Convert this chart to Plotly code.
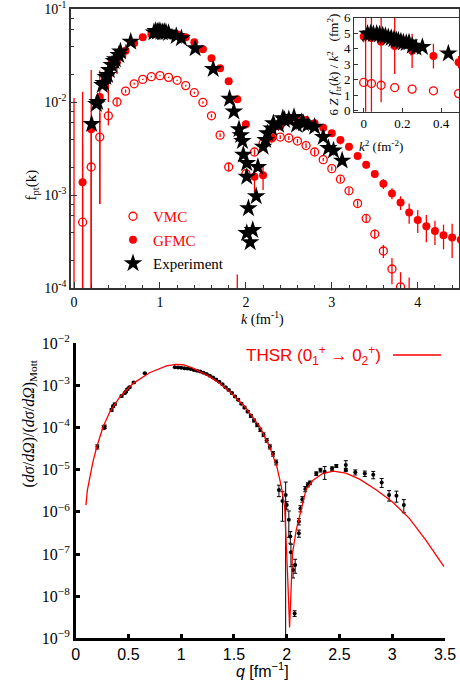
import plotly.graph_objects as go

# ================= TOP PANEL DATA =================
k_gfmc = [0.0, 0.1, 0.2, 0.3, 0.4, 0.5, 0.6, 0.7, 0.8, 0.9, 1.0, 1.1, 1.2, 1.3, 1.4, 1.5,
          1.6, 1.7, 1.8, 1.9, 2.0, 2.1, 2.2, 2.3, 2.4, 2.5, 2.6, 2.7, 2.8, 2.9, 3.0, 3.1,
          3.2, 3.3, 3.4, 3.5, 3.6, 3.7, 3.8, 3.9, 4.0, 4.1, 4.2, 4.3, 4.4, 4.5]
f_gfmc = [5e-5, 0.00137, 0.0051, 0.0113, 0.019, 0.027, 0.0356, 0.043, 0.0497, 0.054, 0.057,
          0.0556, 0.0534, 0.0497, 0.0439, 0.0369, 0.0295, 0.023, 0.0167, 0.0107, 0.00575,
          0.00157, 0.00163, 0.0041, 0.0055, 0.0063, 0.0065, 0.0064, 0.0059, 0.0053, 0.0046,
          0.0039, 0.0033, 0.00262, 0.00212, 0.00168, 0.00132, 0.00104, 0.00083, 0.00065,
          0.00054, 0.00046, 0.00041, 0.00037, 0.00035, 0.00033]
e_gfmc = [0.011, 0.0115, 0.017, 0.0105, 0.009, 0.007, 0.006, 0.005, 0.003, 0.002, 0.002,
          0.002, 0.002, 0.002, 0.002, 0.0015, 0.0015, 0.001, 0.001, 0.0008, 0.0006,
          0.0005, 0.0005, 0.0004, 0.0004, 0.0004, 0.0004, 0.0004, 0.0004, 0.0004, 0.0004,
          0.0004, 0.0003, 0.0002, 0.0002, 0.00015, 0.00016, 0.00014, 0.00014, 0.00016,
          0.00015, 0.00015, 0.00012, 0.00011, 0.00014, 0.00012]

k_vmc = [0.1, 0.2, 0.3, 0.4, 0.5, 0.6, 0.7, 0.8, 0.9, 1.0, 1.1, 1.2, 1.3, 1.4, 1.5, 1.6,
         1.7, 1.8, 1.9, 2.0, 2.1, 2.2, 2.3, 2.4, 2.5, 2.6, 2.7, 2.8, 2.9, 3.0, 3.1, 3.2,
         3.3, 3.4, 3.5, 3.6, 3.7, 3.8, 3.9]
f_vmc = [0.00051, 0.0020, 0.0042, 0.0071, 0.0100, 0.0131, 0.0157, 0.0175, 0.0187, 0.0192,
         0.0184, 0.0171, 0.0150, 0.0126, 0.0099, 0.0071, 0.0044, 0.0020, 3e-5, 0.0017,
         0.0029, 0.0036, 0.0041, 0.0042, 0.0041, 0.0038, 0.0034, 0.0029, 0.0024, 0.00192,
         0.00148, 0.00111, 0.00081, 0.00056, 0.00038, 0.00025, 0.00016, 0.000103, 5e-5]
e_vmc = [0.003, 0.004, 0.0034, 0.0015, 0.0008, 0.0005, 0.0004, 0.0003, 0.0003, 0.0003,
         0.0003, 0.0003, 0.0003, 0.0003, 0.0003, 0.0003, 0.0002, 0.0002, 0.00011, 0.0002,
         0.0002, 0.0002, 0.0002, 0.0002, 0.0002, 0.0002, 0.0002, 0.0002, 0.0001, 0.0001,
         0.0001, 0.00008, 0.00006, 0.00005, 0.000045, 0.00004, 0.00005, 0.000045, 0.00008]

k_exp = [0.205, 0.26, 0.275, 0.33, 0.345, 0.37, 0.39, 0.41, 0.44, 0.465, 0.48, 0.52, 0.54,
         0.66, 0.93, 0.95, 0.97, 0.99, 1.01, 1.03, 1.05, 1.07, 1.10, 1.19, 1.25, 1.41, 1.62,
         1.81, 1.86, 1.92, 1.94, 1.96, 1.97, 2.01, 2.01, 2.03, 2.01, 2.05, 2.08, 2.12, 2.14,
         2.20, 2.23, 2.25, 2.30, 2.32, 2.38, 2.43, 2.45, 2.50, 2.56, 2.59, 2.65, 2.67, 2.72,
         2.80, 2.90, 2.96, 3.02, 3.12]
f_exp = [0.0058, 0.0095, 0.0100, 0.0152, 0.0160, 0.0185, 0.0195, 0.0221, 0.0250, 0.0275,
         0.0288, 0.0320, 0.0348, 0.0445, 0.056, 0.058, 0.057, 0.058, 0.057, 0.056, 0.057,
         0.056, 0.055, 0.0513, 0.0484, 0.0377, 0.0226, 0.0108, 0.0079, 0.0051, 0.0044,
         0.0038, 0.0027, 0.0022, 0.00157, 0.00072, 0.00039, 0.00031, 0.00042, 0.00097,
         0.0020, 0.0033, 0.0039, 0.0046, 0.0052, 0.0059, 0.0057, 0.0067, 0.0064, 0.0065,
         0.0069, 0.0057, 0.0061, 0.0059, 0.0057, 0.0054, 0.0042, 0.0032, 0.0030, 0.00234]

top_ytick_vals = [1e-4, 1e-3, 1e-2, 1e-1]
top_ytick_text = ["10<sup>-4</sup>", "10<sup>-3</sup>", "10<sup>-2</sup>", "10<sup>-1</sup>"]
top_xtick_vals = [0, 1, 2, 3, 4]

# ================= INSET DATA =================
k2_gfmc = [0.0, 0.01, 0.04, 0.09, 0.16, 0.25, 0.36, 0.49]
r_gfmc = [4.78, 4.8, 4.67, 4.43, 4.16, 3.85, 3.51, 3.12]
re_gfmc = [0.38, 6.5, 6.0, 3.9, 1.8, 1.1, 0.8, 0.4]
k2_vmc = [0.0, 0.04, 0.09, 0.16, 0.25, 0.36, 0.49]
r_vmc = [1.81, 1.74, 1.63, 1.48, 1.38, 1.27, 1.09]
k2_exp = [0.02, 0.036, 0.05, 0.067, 0.082, 0.098, 0.112, 0.127, 0.142, 0.156, 0.168,
          0.179, 0.192, 0.205, 0.22, 0.234, 0.251, 0.27, 0.303, 0.437]
r_exp = [4.95, 4.97, 4.93, 4.95, 4.9, 4.85, 4.8, 4.72, 4.68, 4.6, 4.55, 4.52, 4.45,
         4.38, 4.35, 4.38, 4.18, 4.05, 4.1, 3.68]
inset_xtick_vals = [0, 0.2, 0.4]
inset_ytick_vals = [0, 1, 2, 3, 4, 5, 6]

# ================= BOTTOM PANEL DATA =================
q_thsr = [0.097, 0.11, 0.135, 0.165, 0.2, 0.26, 0.325, 0.42, 0.545, 0.70, 0.86, 0.95,
          1.02, 1.1, 1.27, 1.365, 1.46, 1.60, 1.744, 1.838, 1.907, 1.949, 1.98, 1.995,
          2.01, 2.027, 2.04, 2.055, 2.09, 2.14, 2.185, 2.25, 2.34, 2.44, 2.56, 2.69,
          2.85, 3.0, 3.16, 3.32, 3.49]
s_thsr = [1.45e-6, 3.2e-6, 6.8e-6, 1.6e-5, 3.5e-5, 1.05e-4, 2.4e-4, 5.4e-4, 1.12e-3,
          2.0e-3, 2.9e-3, 3.15e-3, 3.1e-3, 2.65e-3, 1.62e-3, 1.12e-3, 7.1e-4, 3.2e-4,
          1.05e-4, 3.5e-5, 1.17e-5, 4.0e-6, 1.32e-6, 2.5e-7, 2.5e-8, 1.8e-9, 1.66e-8,
          1.05e-7, 3.7e-7, 1.32e-6, 3.5e-6, 5.6e-6, 8.1e-6, 9.3e-6, 8.3e-6, 6.0e-6,
          3.3e-6, 1.74e-6, 7.1e-7, 2.1e-7, 5.0e-8]

q_data = [0.205, 0.265, 0.275, 0.34, 0.355, 0.37, 0.435, 0.465, 0.476, 0.49, 0.51, 0.55,
          0.655, 0.94, 0.97, 1.0, 1.03, 1.06, 1.09, 1.12, 1.15, 1.18, 1.21, 1.24, 1.27,
          1.30, 1.33, 1.36, 1.39, 1.42, 1.45, 1.48, 1.51, 1.54, 1.57, 1.60, 1.63, 1.66,
          1.69, 1.72, 1.75, 1.78, 1.81, 1.84, 1.87, 1.90, 1.926, 1.96, 1.99, 2.0, 2.02,
          2.034, 2.04, 2.06, 2.075, 2.08, 2.115, 2.115, 2.13, 2.148, 2.176, 2.2, 2.22,
          2.28, 2.32, 2.36, 2.43, 2.47, 2.56, 2.56, 2.65, 2.74, 2.82, 2.90, 2.97, 3.04,
          3.11]
s_data = [3.5e-5, 1.0e-4, 1.05e-4, 2.6e-4, 3.2e-4, 3.6e-4, 5.6e-4, 6.6e-4, 7.1e-4, 8.1e-4,
          9.1e-4, 1.17e-3, 1.95e-3, 2.69e-3, 2.66e-3, 2.63e-3, 2.57e-3, 2.51e-3, 2.45e-3,
          2.34e-3, 2.24e-3, 2.14e-3, 2.0e-3, 1.86e-3, 1.70e-3, 1.55e-3, 1.38e-3, 1.23e-3,
          1.07e-3, 9.1e-4, 7.8e-4, 6.6e-4, 5.5e-4, 4.6e-4, 3.7e-4, 3.0e-4, 2.4e-4, 1.9e-4,
          1.48e-4, 1.15e-4, 8.9e-5, 6.8e-5, 5.0e-5, 3.5e-5, 2.4e-5, 1.5e-5, 3.3e-6, 1.8e-6,
          2.5e-6, 1.45e-6, 6.5e-7, 2.6e-7, 1.1e-7, 4.2e-8, 3.9e-9, 5.5e-8, 3.1e-7, 5.9e-7,
          1.2e-6, 2.0e-6, 3.5e-6, 4.4e-6, 4.9e-6, 8.1e-6, 9.8e-6, 8.9e-6, 1.07e-5, 1.23e-5,
          1.29e-5, 1.0e-5, 8.7e-6, 8.1e-6, 7.6e-6, 5.0e-6, 2.5e-6, 2.4e-6, 1.45e-6]
e_data = [4e-6, 1e-5, 1e-5, 2e-5, 2e-5, 2e-5, 3e-5, 3e-5, 3e-5, 4e-5, 4e-5, 5e-5, 6e-5,
          5e-5, 5e-5, 5e-5, 5e-5, 5e-5, 5e-5, 5e-5, 5e-5, 5e-5, 5e-5, 5e-5, 4e-5, 4e-5,
          4e-5, 4e-5, 3e-5, 3e-5, 3e-5, 3e-5, 3e-5, 2.5e-5, 2e-5, 2e-5, 1.5e-5, 1.5e-5,
          1.2e-5, 1e-5, 8e-6, 7e-6, 5e-6, 4e-6, 3e-6, 2e-6, 1.0e-6, 1.2e-6, 2.6e-6, 3e-7,
          4e-7, 8e-8, 6e-8, 1.5e-8, 6e-10, 2e-8, 6e-8, 1e-7, 2e-7, 3e-7, 5e-7, 5e-7, 5e-7,
          8e-7, 1e-6, 3e-6, 1e-6, 1e-6, 3.5e-6, 8e-7, 1.2e-6, 1.2e-6, 1.5e-6, 1.2e-6,
          7e-7, 7e-7, 5e-7]

bot_ytick_vals = [1e-9, 1e-8, 1e-7, 1e-6, 1e-5, 1e-4, 1e-3, 1e-2]
bot_ytick_text = ["10<sup>\u22129</sup>", "10<sup>\u22128</sup>", "10<sup>\u22127</sup>",
                  "10<sup>\u22126</sup>", "10<sup>\u22125</sup>", "10<sup>\u22124</sup>",
                  "10<sup>\u22123</sup>", "10<sup>\u22122</sup>"]
bot_xtick_vals = [0, 0.5, 1, 1.5, 2, 2.5, 3, 3.5]
bot_xtick_text = ["0", "0.5", "1", "1.5", "2", "2.5", "3", "3.5"]

SERIF = "Liberation Serif"
SANS = "Liberation Sans"
W, H = 460, 695


def px(x):
    return x / W


def py(y):
    return 1 - y / H


fig = go.Figure()

# ---- top panel ----
fig.add_trace(go.Scatter(
    x=k_vmc, y=f_vmc, mode="markers", xaxis="x", yaxis="y",
    name="<span style='color:red'>VMC</span>", legendgroup="a",
    marker=dict(symbol="circle-open", color="red", size=8, line=dict(width=1.3, color="red")),
    error_y=dict(type="data", array=e_vmc, color="red", thickness=1.3, width=0)))
fig.add_trace(go.Scatter(
    x=k_gfmc, y=f_gfmc, mode="markers", xaxis="x", yaxis="y",
    name="<span style='color:red'>GFMC</span>", legendgroup="b",
    marker=dict(symbol="circle", color="red", size=8),
    error_y=dict(type="data", array=e_gfmc, color="red", thickness=1.3, width=0)))
fig.add_trace(go.Scatter(
    x=k_exp, y=f_exp, mode="markers", xaxis="x", yaxis="y",
    name="Experiment", legendgroup="c",
    marker=dict(symbol="star", color="black", size=14, line=dict(width=0))))

# ---- inset ----
fig.add_trace(go.Scatter(
    x=k2_vmc, y=r_vmc, mode="markers", xaxis="x2", yaxis="y2", showlegend=False,
    marker=dict(symbol="circle-open", color="red", size=8, line=dict(width=1.3, color="red"))))
fig.add_trace(go.Scatter(
    x=k2_gfmc, y=r_gfmc, mode="markers", xaxis="x2", yaxis="y2", showlegend=False,
    marker=dict(symbol="circle", color="red", size=8),
    error_y=dict(type="data", array=re_gfmc, color="red", thickness=1.3, width=0)))
fig.add_trace(go.Scatter(
    x=k2_exp, y=r_exp, mode="markers", xaxis="x2", yaxis="y2", showlegend=False,
    marker=dict(symbol="star", color="black", size=14, line=dict(width=0))))

# ---- bottom panel ----
fig.add_trace(go.Scatter(
    x=q_data, y=s_data, mode="markers", xaxis="x3", yaxis="y3", showlegend=False,
    marker=dict(symbol="circle", color="black", size=4),
    error_y=dict(type="data", array=e_data, color="black", thickness=1, width=2)))
fig.add_trace(go.Scatter(
    x=q_thsr, y=s_thsr, mode="lines", xaxis="x3", yaxis="y3", showlegend=False,
    line=dict(color="red", width=1.3)))

axis_font_top = dict(family=SERIF, size=14, color="black")

fig.update_layout(
    width=W, height=H, margin=dict(l=0, r=0, t=0, b=0, autoexpand=False),
    paper_bgcolor="white", plot_bgcolor="white",
    xaxis=dict(domain=[px(71), px(459)], range=[-0.035, 4.48], anchor="y", automargin=False,
               tickvals=top_xtick_vals, ticks="inside", ticklen=6, tickcolor="#333",
               showline=True, linecolor="#333", linewidth=1.5, mirror=True,
               showgrid=False, zeroline=False, tickfont=axis_font_top,
               ticklabeloverflow="allow",
               minor=dict(dtick=0.2, ticks="inside", ticklen=3, tickcolor="#333")),
    yaxis=dict(domain=[py(288), py(9)], type="log", range=[-4, -1], anchor="x", automargin=False,
               tickvals=top_ytick_vals, ticktext=top_ytick_text,
               ticks="inside", ticklen=6, tickcolor="#333",
               showline=True, linecolor="#333", linewidth=1.5, mirror=True,
               showgrid=False, zeroline=False, tickfont=axis_font_top,
               ticklabeloverflow="allow",
               minor=dict(tickvals=[2e-4, 4e-4, 6e-4, 8e-4, 2e-3, 4e-3, 6e-3, 8e-3,
                                    2e-2, 4e-2, 6e-2, 8e-2],
                          ticks="inside", ticklen=3, tickcolor="#333")),
    xaxis2=dict(domain=[px(354.3), px(459)], range=[-0.0485, 0.492], anchor="y2", automargin=False,
                tickvals=inset_xtick_vals, ticks="inside", ticklen=4, tickcolor="#333",
                showline=True, linecolor="#333", linewidth=1.2, mirror=True,
                showgrid=False, zeroline=False, ticklabeloverflow="allow",
                tickfont=dict(family=SERIF, size=13, color="black")),
    yaxis2=dict(domain=[py(111.7), py(17.5)], range=[-0.077, 6], anchor="x2", automargin=False,
                tickvals=inset_ytick_vals, ticks="inside", ticklen=4, tickcolor="#333",
                showline=True, linecolor="#333", linewidth=1.2, mirror=True,
                showgrid=False, zeroline=False, ticklabeloverflow="allow",
                tickfont=dict(family=SERIF, size=13, color="black"),
                title=dict(text="6 <i>Z</i> <i>f</i><sub>tr</sub>(<i>k</i>) / <i>k</i><sup>2</sup>   (fm<sup>2</sup>)",
                           font=dict(family=SERIF, size=13, color="black"), standoff=2)),
    xaxis3=dict(domain=[px(75.7), px(445)], range=[0, 3.5], anchor="y3", automargin=False,
                tickvals=bot_xtick_vals, ticktext=bot_xtick_text,
                ticks="inside", ticklen=5, tickwidth=2.5, tickcolor="black",
                showline=True, linecolor="black", linewidth=2.5,
                showgrid=False, zeroline=False, ticklabeloverflow="allow",
                tickfont=dict(family=SANS, size=16, color="black")),
    yaxis3=dict(domain=[py(638.3), py(343.3)], type="log", range=[-9, -2], anchor="x3", automargin=False,
                tickvals=bot_ytick_vals, ticktext=bot_ytick_text,
                ticks="inside", ticklen=5, tickwidth=2.5, tickcolor="black",
                showline=True, linecolor="black", linewidth=2.5,
                showgrid=False, zeroline=False, ticklabeloverflow="allow",
                tickfont=dict(family=SERIF, size=16, color="black")),
    legend=dict(x=px(113), y=py(200), xanchor="left", yanchor="top",
                bgcolor="rgba(0,0,0,0)", font=dict(family=SERIF, size=15, color="black"),
                tracegroupgap=1, traceorder="grouped", itemsizing="trace"),
)

ann = []
ann.append(dict(x=px(20), y=py(168), xref="paper", yref="paper", textangle=-90,
                text="f<sub>pt</sub>(k)", showarrow=False,
                font=dict(family=SERIF, size=15, color="black")))
ann.append(dict(x=px(262), y=py(318), xref="paper", yref="paper",
                text="<i>k</i> (fm<sup>-1</sup>)", showarrow=False,
                font=dict(family=SERIF, size=14, color="black")))
ann.append(dict(x=px(405), y=py(136), xref="paper", yref="paper",
                text="<i>k</i><sup>2</sup> (fm<sup>-2</sup>)", showarrow=False,
                font=dict(family=SERIF, size=13, color="black")))
ann.append(dict(x=px(18), y=py(490), xref="paper", yref="paper", textangle=-90,
                text="(<i>d\u03c3</i>/<i>d\u03a9</i>)/(<i>d\u03c3</i>/<i>d\u03a9</i>)<sub>Mott</sub>",
                showarrow=False, font=dict(family=SERIF, size=16, color="black")))
ann.append(dict(x=px(262), y=py(682), xref="paper", yref="paper",
                text="<i>q</i> [fm<sup>\u22121</sup>]", showarrow=False,
                font=dict(family=SANS, size=16, color="black")))
ann.append(dict(x=px(383), y=py(356), xref="paper", yref="paper", xanchor="right",
                text="THSR (0<sub>1</sub><sup>+</sup> \u2192 0<sub>2</sub><sup>+</sup>)",
                showarrow=False, font=dict(family=SANS, size=17, color="red")))
fig.update_layout(annotations=ann)
fig.add_shape(type="line", xref="paper", yref="paper", x0=px(393), x1=px(441),
              y0=py(355), y1=py(355), line=dict(color="red", width=1.3))

fig.write_html("out.html", config={"displayModeBar": False},
               post_script="document.body.style.margin='0';")
